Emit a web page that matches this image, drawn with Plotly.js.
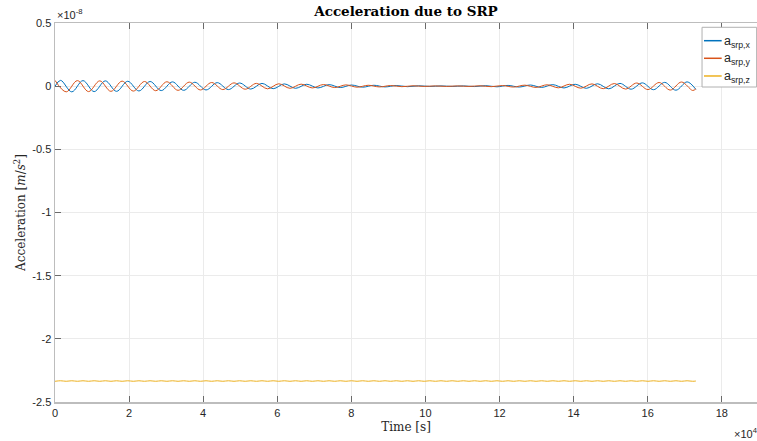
<!DOCTYPE html>
<html>
<head>
<meta charset="utf-8">
<script src="https://cdn.plot.ly/plotly-3.0.1.min.js"></script>
<style>
  html, body { margin: 0; padding: 0; background: #ffffff; }
  #chart { width: 757px; height: 441px; }
</style>
</head>
<body>
<div id="chart"></div>
<script>
// Solar radiation pressure acceleration components, in units of 1e-8 m/s^2.
// x and y are listed at their successive peaks/troughs (half an orbit apart),
// z at quarter-orbit steps.
const HALF_ORBIT = 3020;   // s
const T_END = 173000;      // s, last sample

const accX = [0,
  0.046, -0.045, 0.044, -0.043, 0.042, -0.041, 0.039, -0.038, 0.037, -0.035,
  0.034, -0.033, 0.031, -0.030, 0.028, -0.027, 0.025, -0.023, 0.022, -0.020,
  0.018, -0.017, 0.015, -0.014, 0.012, -0.011, 0.009, -0.008, 0.007, -0.006,
  0.005, -0.004, 0.003, -0.002, 0.002, -0.002, 0.002, -0.003, 0.004, -0.005,
  0.006, -0.007, 0.009, -0.010, 0.012, -0.014, 0.015, -0.017, 0.019, -0.021,
  0.022, -0.024, 0.026, -0.028, 0.030, -0.032, 0.034,
  -0.026];

const accY = [
  0.046, -0.045, 0.044, -0.043, 0.042, -0.041, 0.040, -0.039, 0.037, -0.036,
  0.035, -0.033, 0.032, -0.030, 0.029, -0.027, 0.026, -0.024, 0.022, -0.021,
  0.019, -0.017, 0.016, -0.014, 0.013, -0.011, 0.010, -0.008, 0.007, -0.006,
  0.005, -0.004, 0.003, -0.002, 0.002, -0.002, 0.002, -0.002, 0.003, -0.004,
  0.005, -0.007, 0.008, -0.010, 0.011, -0.013, 0.015, -0.016, 0.018, -0.020,
  0.021, -0.023, 0.025, -0.027, 0.029, -0.031, 0.033, -0.034,
  -0.021];

const accZ = [
  -2.336, -2.332, -2.336, -2.332, -2.336, -2.332, -2.336, -2.332, -2.336, -2.332,
  -2.336, -2.332, -2.336, -2.332, -2.336, -2.332, -2.336, -2.332, -2.336, -2.332,
  -2.336, -2.332, -2.336, -2.332, -2.336, -2.332, -2.336, -2.332, -2.336, -2.332,
  -2.336, -2.332, -2.336, -2.332, -2.336, -2.332, -2.336, -2.332, -2.336, -2.332,
  -2.336, -2.332, -2.336, -2.332, -2.336, -2.332, -2.336, -2.332, -2.336, -2.332,
  -2.336, -2.332, -2.336, -2.332, -2.336, -2.332, -2.336, -2.332, -2.336, -2.332,
  -2.336, -2.332, -2.336, -2.332, -2.336, -2.332, -2.336, -2.332, -2.336, -2.332,
  -2.336, -2.332, -2.336, -2.332, -2.336, -2.332, -2.336, -2.332, -2.336, -2.332,
  -2.336, -2.332, -2.336, -2.332, -2.336, -2.332, -2.336, -2.332, -2.336, -2.332,
  -2.336, -2.332, -2.336, -2.332, -2.336, -2.332, -2.336, -2.332, -2.336, -2.332,
  -2.336, -2.332, -2.336, -2.332, -2.336, -2.332, -2.336, -2.332, -2.336, -2.332,
  -2.336, -2.332, -2.336, -2.332, -2.336, -2.334];

const seriesNames = ['a<sub>srp,x</sub>', 'a<sub>srp,y</sub>', 'a<sub>srp,z</sub>'];
const seriesColors = ['#0072BD', '#D95319', '#EDB120'];

const xTickVals = [0, 20000, 40000, 60000, 80000, 100000, 120000, 140000, 160000, 180000];
const xTickText = ['0', '2', '4', '6', '8', '10', '12', '14', '16', '18'];
const yTickVals = [0.5, 0, -0.5, -1, -1.5, -2, -2.5];
const yTickText = ['0.5', '0', '-0.5', '-1', '-1.5', '-2', '-2.5'];

function sampleTimes(first, step, count) {
  const t = [];
  for (let i = 0; i < count; i++) t.push(first + i * step);
  return t;
}

const tX = [0].concat(sampleTimes(HALF_ORBIT / 2, HALF_ORBIT, accX.length - 2), [T_END]);
const tY = sampleTimes(0, HALF_ORBIT, accY.length - 1).concat([T_END]);
const tZ = sampleTimes(0, HALF_ORBIT / 2, accZ.length - 1).concat([T_END]);

const traces = [
  { x: tX, y: accX, name: seriesNames[0], type: 'scatter', mode: 'lines',
    line: { color: seriesColors[0], width: 1, shape: 'spline', smoothing: 1 } },
  { x: tY, y: accY, name: seriesNames[1], type: 'scatter', mode: 'lines',
    line: { color: seriesColors[1], width: 1, shape: 'spline', smoothing: 1 } },
  { x: tZ, y: accZ, name: seriesNames[2], type: 'scatter', mode: 'lines',
    line: { color: seriesColors[2], width: 1, shape: 'spline', smoothing: 1 } }
];

const tickFont = { family: 'Liberation Sans, Arial, sans-serif', size: 11, color: '#262626' };
const serifFont = 'DejaVu Serif, Liberation Serif, serif';

// Compact boxed legend in the upper-right corner of the axes
const legendRows = [0.9533, 0.9069, 0.8602];
const shapes = [
  { type: 'rect', xref: 'paper', yref: 'paper', x0: 0.9217, x1: 0.9995, y0: 0.8311, y1: 0.9887,
    line: { color: '#b0b0b0', width: 1 }, fillcolor: '#ffffff', layer: 'above' }
];
const annotations = [];
legendRows.forEach((ry, i) => {
  shapes.push({ type: 'line', xref: 'paper', yref: 'paper', x0: 0.9245, x1: 0.9497, y0: ry, y1: ry,
    line: { color: seriesColors[i], width: 1.5 }, layer: 'above' });
  annotations.push({ xref: 'paper', yref: 'paper', x: 0.9505, y: ry, xanchor: 'left', yanchor: 'middle',
    yshift: -1, text: seriesNames[i], showarrow: false,
    font: { family: tickFont.family, size: 12.5, color: '#262626' } });
});
// Axis exponent labels
annotations.push({ xref: 'paper', yref: 'paper', x: 0, y: 1, xanchor: 'left', yanchor: 'bottom',
  text: '\u00d710<sup>-8</sup>', showarrow: false, font: tickFont });
annotations.push({ xref: 'paper', yref: 'paper', x: 1, y: 0, xanchor: 'right', yanchor: 'top', xshift: 3, yshift: -22,
  text: '\u00d710<sup>4</sup>', showarrow: false, font: tickFont });

const layout = {
  width: 757, height: 441,
  margin: { l: 55, r: 0, t: 23, b: 39 },
  paper_bgcolor: '#ffffff', plot_bgcolor: '#ffffff',
  showlegend: false,
  title: { text: '<b>Acceleration due to SRP</b>', font: { family: serifFont, size: 13.5, color: '#000000' },
           xref: 'paper', x: 0.5, xanchor: 'center', yref: 'container', y: 0.975, yanchor: 'middle' },
  xaxis: {
    range: [0, 189500], tickvals: xTickVals, ticktext: xTickText, tickfont: tickFont,
    showgrid: true, gridcolor: '#ebebeb', gridwidth: 1, zeroline: false,
    showline: true, linecolor: '#bdbdbd', linewidth: 1.5, mirror: 'ticks',
    ticks: 'inside', ticklen: 6, tickcolor: '#6a6a6a', tickwidth: 1,
    title: { text: 'Time [s]', font: { family: serifFont, size: 12, color: '#262626' }, standoff: 5 }
  },
  yaxis: {
    range: [-2.5, 0.5], tickvals: yTickVals, ticktext: yTickText, tickfont: tickFont,
    showgrid: true, gridcolor: '#ebebeb', gridwidth: 1, zeroline: false,
    showline: true, linecolor: '#bdbdbd', linewidth: 1.5, mirror: false,
    ticks: 'inside', ticklen: 6, tickcolor: '#6a6a6a', tickwidth: 1,
    title: { text: 'Acceleration [<i>m</i>/<i>s</i><sup>2</sup>]', font: { family: serifFont, size: 12, color: '#262626' }, standoff: 4 }
  },
  shapes: shapes,
  annotations: annotations
};

Plotly.newPlot('chart', traces, layout, { staticPlot: true, displayModeBar: false });
</script>
</body>
</html>
